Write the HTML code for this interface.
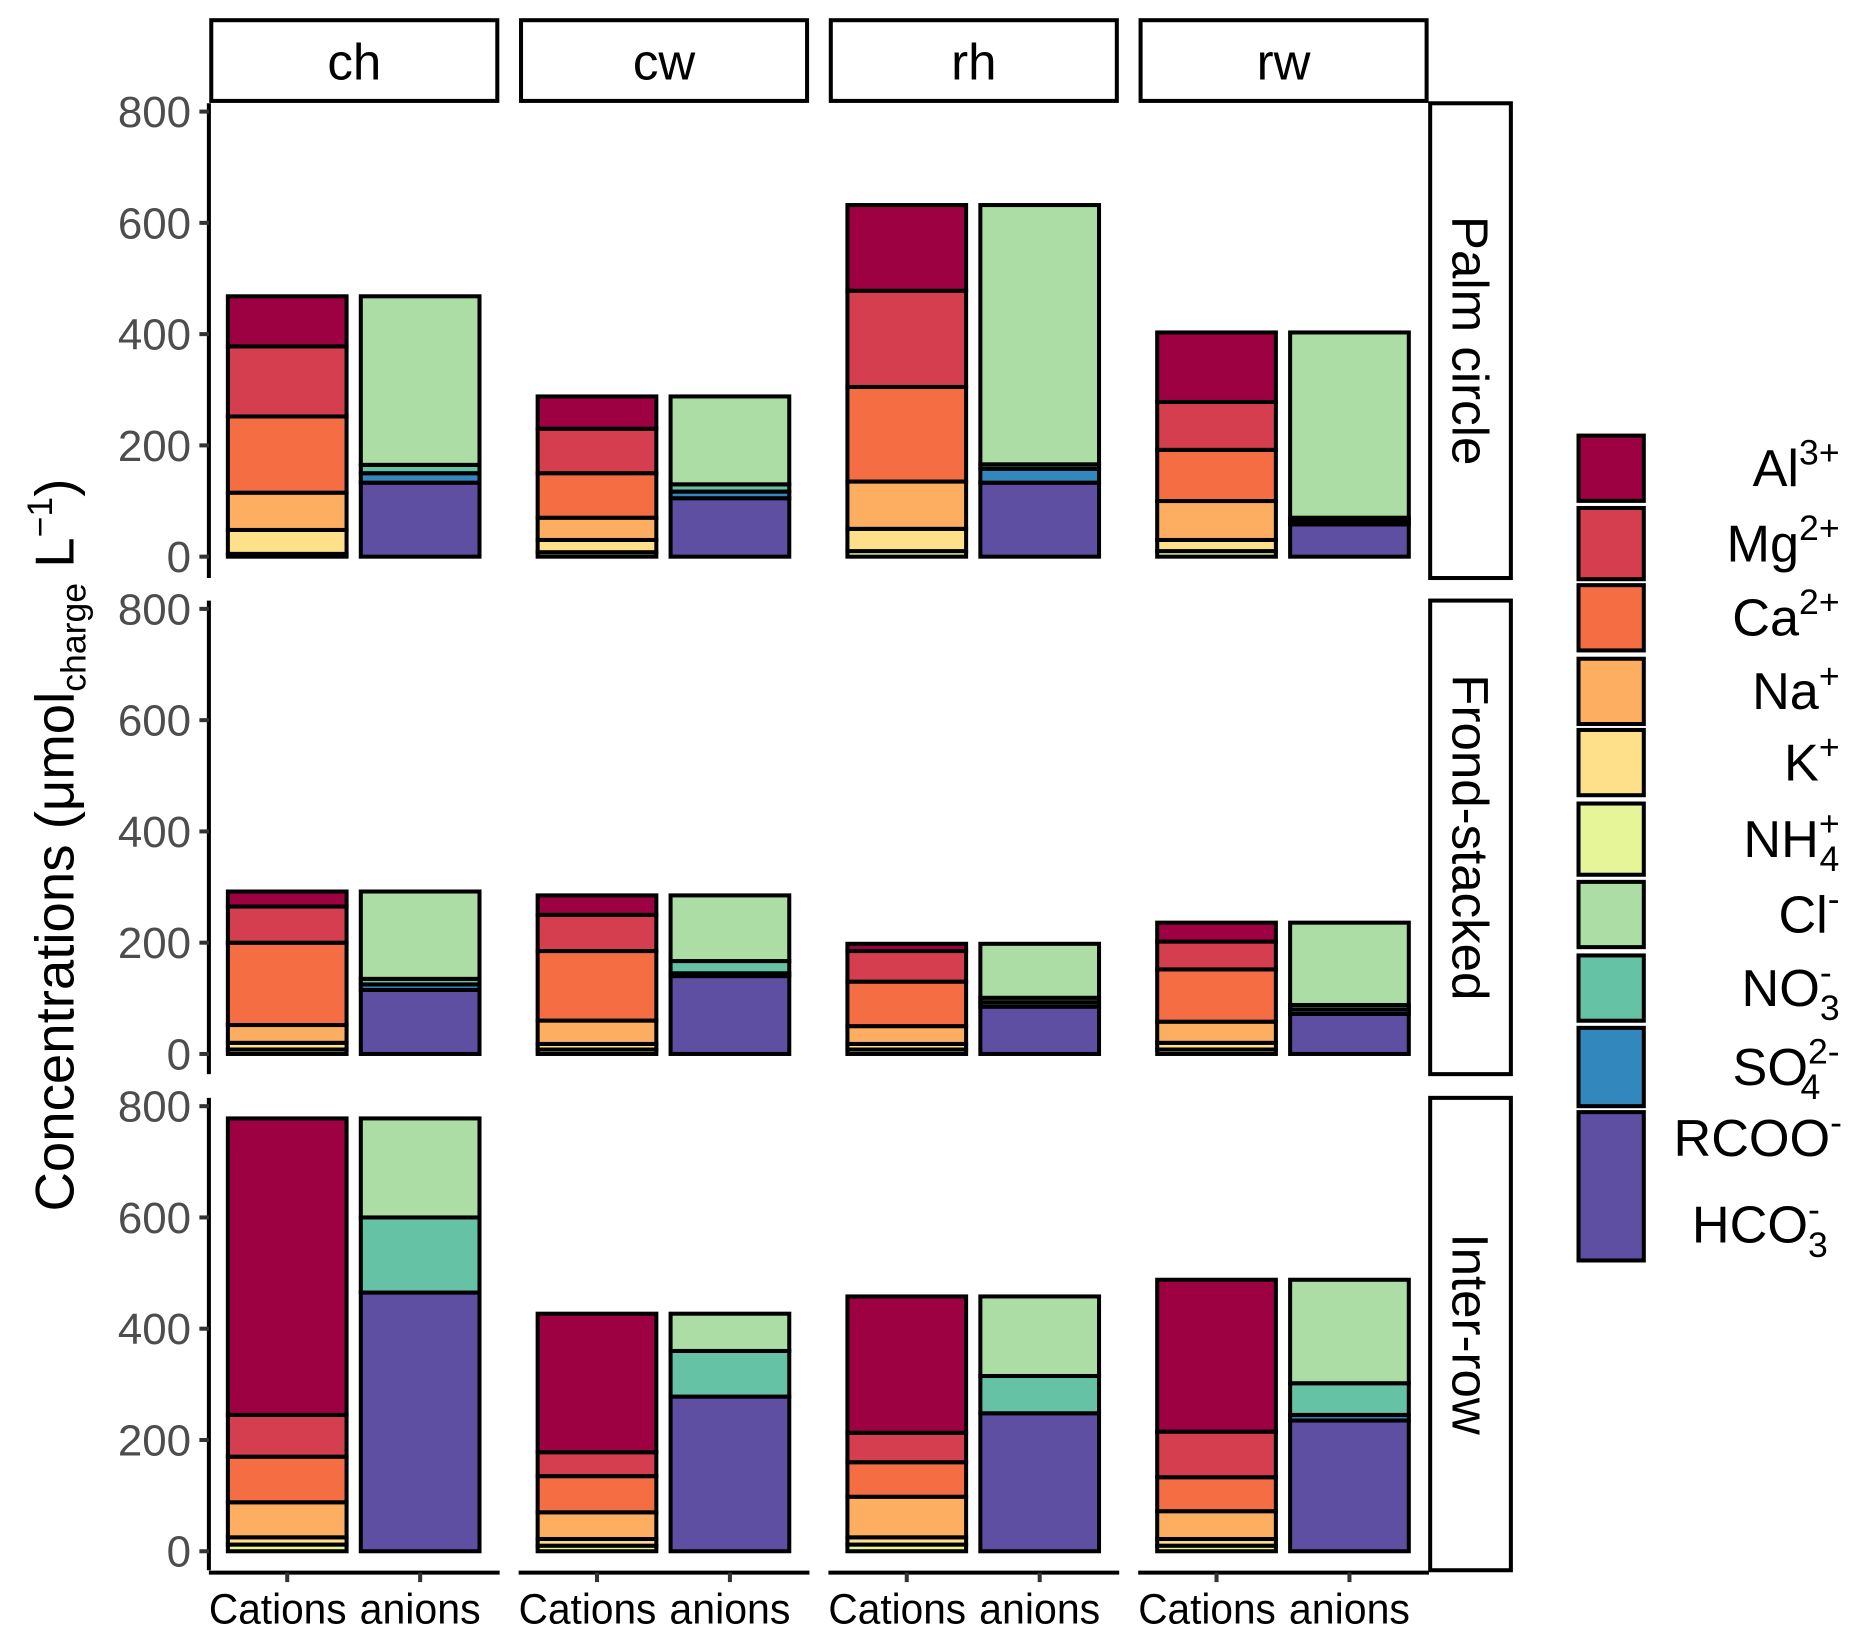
<!DOCTYPE html>
<html><head><meta charset="utf-8">
<style>
html,body{margin:0;padding:0;background:#fff;}
svg{display:block;}
text{font-family:"Liberation Sans",sans-serif;}
</style></head>
<body>
<svg id="chart" xmlns="http://www.w3.org/2000/svg" width="1861" height="1641" viewBox="0 0 1568 1382.6"></svg>
<script>
const facets = ["ch","cw","rh","rw"];
const rows = ["Palm circle","Frond-stacked","Inter-row"];
const yTicks = [0,200,400,600,800];
const species = ["NH4","K","Na","Ca","Mg","Al"];
const anionSpecies = ["HCO3","RCOO","SO4","NO3","Cl"];
// values: index = row*4 + facet
const NH4 = [5,8,10,10, 8,8,8,8, 12,10,12,10];
const K   = [43,22,40,20, 12,10,10,12, 13,12,13,12];
const Na  = [67,40,85,70, 32,42,32,38, 63,48,73,50];
const Ca  = [137,80,170,92, 148,125,80,94, 82,65,62,61];
const Mg  = [126,80,173,86, 65,65,55,50, 75,43,53,82];
const Al  = [90,58,154,125, 27,35,13,34, 533,249,245,273];
const HCO3 = [133,105,133,58, 115,140,85,72, 465,278,248,235];
const RCOO = [0,0,0,0, 0,0,0,0, 0,0,0,0];
const SO4  = [17,12,25,6, 10,5,8,8, 0,0,0,10];
const NO3  = [15,13,8,6, 10,22,8,8, 135,82,67,57];
const Cl   = [303,158,466,333, 157,118,97,148, 178,67,143,186];
const catData = {NH4,K,Na,Ca,Mg,Al};
const anData = {HCO3,RCOO,SO4,NO3,Cl};
const colors = {Al:"#9e0142",Mg:"#d53e4f",Ca:"#f46d43",Na:"#fdae61",K:"#fee08b",NH4:"#e6f598",Cl:"#abdda4",NO3:"#66c2a5",SO4:"#3288bd",RCOO:"#5e4fa2",HCO3:"#5e4fa2"};

const NS="http://www.w3.org/2000/svg";
const svg=document.getElementById('chart');
function el(tag,attrs,parent){const e=document.createElementNS(NS,tag);for(const k in attrs)e.setAttribute(k,attrs[k]);(parent||svg).appendChild(e);return e;}
const panelX=[178,439,700,961], panelW=241;
const rowTop=[87,506,925], rowBot=[487,905,1323], rowZero=[469,888,1307];
const pxPer=(469-94)/800;
function yScale(r,v){return rowZero[r]-v*pxPer;}
const barOff=[14,126], barW=100;
const SW=3.4;

facets.forEach((f,i)=>{
  const g=el('g',{});
  
  
  el('rect',{x:panelX[i],y:17,width:panelW,height:68,fill:'#fff',stroke:'#000','stroke-width':SW},g);
  const t=el('text',{x:panelX[i]+panelW/2,y:67,'text-anchor':'middle','font-size':43,fill:'#000'},g);t.textContent=f;
});
rows.forEach((r,ri)=>{
  const g=el('g',{});
  
  
  el('rect',{x:1205,y:rowTop[ri],width:68,height:rowBot[ri]-rowTop[ri],fill:'#fff',stroke:'#000','stroke-width':SW},g);
  const cy=(rowTop[ri]+rowBot[ri])/2;
  const t=el('text',{x:1224,y:cy,'text-anchor':'middle','font-size':43,fill:'#000',transform:`rotate(90 1224 ${cy})`},g);t.textContent=r;
  const ax=el('g',{});
  
  
  el('line',{x1:176,x2:176,y1:rowTop[ri],y2:rowBot[ri],stroke:'#000','stroke-width':SW},ax);
  yTicks.forEach(v=>{
    const y=yScale(ri,v);
    el('line',{x1:168,x2:176,y1:y,y2:y,stroke:'#333','stroke-width':SW},ax);
    const t=el('text',{x:161,y:y+13,'text-anchor':'end','font-size':37,fill:'#4d4d4d'},ax);t.textContent=v;
  });
  facets.forEach((f,fi)=>{
    const idx=ri*4+fi;
    [[species,catData,0,'cations'],[anionSpecies,anData,1,'anions']].forEach(([list,data,b,nm])=>{
      let cum=0;
      list.forEach(s=>{
        const v=data[s][idx]; if(v<=0)return;
        const y1=yScale(ri,cum+v), y0=yScale(ri,cum);
        const rect=el('rect',{x:panelX[fi]+barOff[b],y:y1,width:barW,height:y0-y1,fill:colors[s],stroke:'#000','stroke-width':SW});
        
        
        cum+=v;
      });
    });
  });
});
facets.forEach((f,fi)=>{
  const g=el('g',{});
  
  
  el('line',{x1:panelX[fi]-2,x2:panelX[fi]+panelW+2,y1:1325,y2:1325,stroke:'#000','stroke-width':SW},g);
  ['Cations','anions'].forEach((lab,b)=>{
    const cx=panelX[fi]+barOff[b]+barW/2;
    el('line',{x1:cx,x2:cx,y1:1325,y2:1333,stroke:'#333','stroke-width':SW},g);
    const t=el('text',{x:cx+(b===0?-8:0),y:1368,'text-anchor':'middle','font-size':36,fill:'#000',textLength:lab==='Cations'?116:102,lengthAdjust:'spacingAndGlyphs'},g);t.textContent=lab;
  });
});
const yt=el('text',{x:0,y:0,'font-size':46,fill:'#000','text-anchor':'middle',transform:'translate(62 712) rotate(-90)'});


yt.innerHTML='Concentrations (μmol<tspan font-size="30" dy="10">charge</tspan><tspan dy="-10"> L</tspan><tspan font-size="30" dy="-18">−1</tspan><tspan dy="18">)</tspan>';
const legKeys=[["Al",367,422,'Al<tspan font-size="30" dy="-18">3+</tspan>'],["Mg",428,488,'Mg<tspan font-size="30" dy="-18">2+</tspan>'],["Ca",493,548,'Ca<tspan font-size="30" dy="-18">2+</tspan>'],["Na",555,610,'Na<tspan font-size="30" dy="-18">+</tspan>'],["K",615,670,'K<tspan font-size="30" dy="-18">+</tspan>'],["NH4",677,737,'NH<tspan font-size="30" dy="-18">+</tspan><tspan font-size="30" dx="-17" dy="30">4</tspan>'],["Cl",743,798,'Cl<tspan font-size="30" dy="-18">-</tspan>'],["NO3",805,860,'NO<tspan font-size="30" dy="-18">-</tspan><tspan font-size="30" dx="-10" dy="30">3</tspan>'],["SO4",866,932,'SO<tspan font-size="30" dy="-18">2-</tspan><tspan font-size="30" dx="-33" dy="30">4</tspan>'],["RCOO",937,1062,null]];
legKeys.forEach(([s,y0,y1,lab])=>{
  const g=el('g',{});
  
  
  el('rect',{x:1330,y:y0,width:55,height:y1-y0,fill:colors[s],stroke:'#000','stroke-width':SW},g);
  if(lab){const t=el('text',{x:1550,y:(y0+y1)/2+15,'text-anchor':'end','font-size':44,fill:'#000'},g);t.innerHTML=lab;}
});
const l1=el('text',{x:1552,y:974,'text-anchor':'end','font-size':44,fill:'#000'});l1.innerHTML='RCOO<tspan font-size="30" dy="-18">-</tspan>';


const l2=el('text',{x:1540,y:1047,'text-anchor':'end','font-size':44,fill:'#000'});l2.innerHTML='HCO<tspan font-size="30" dy="-18">-</tspan><tspan font-size="30" dx="-10" dy="30">3</tspan>';


</script>
</body></html>
